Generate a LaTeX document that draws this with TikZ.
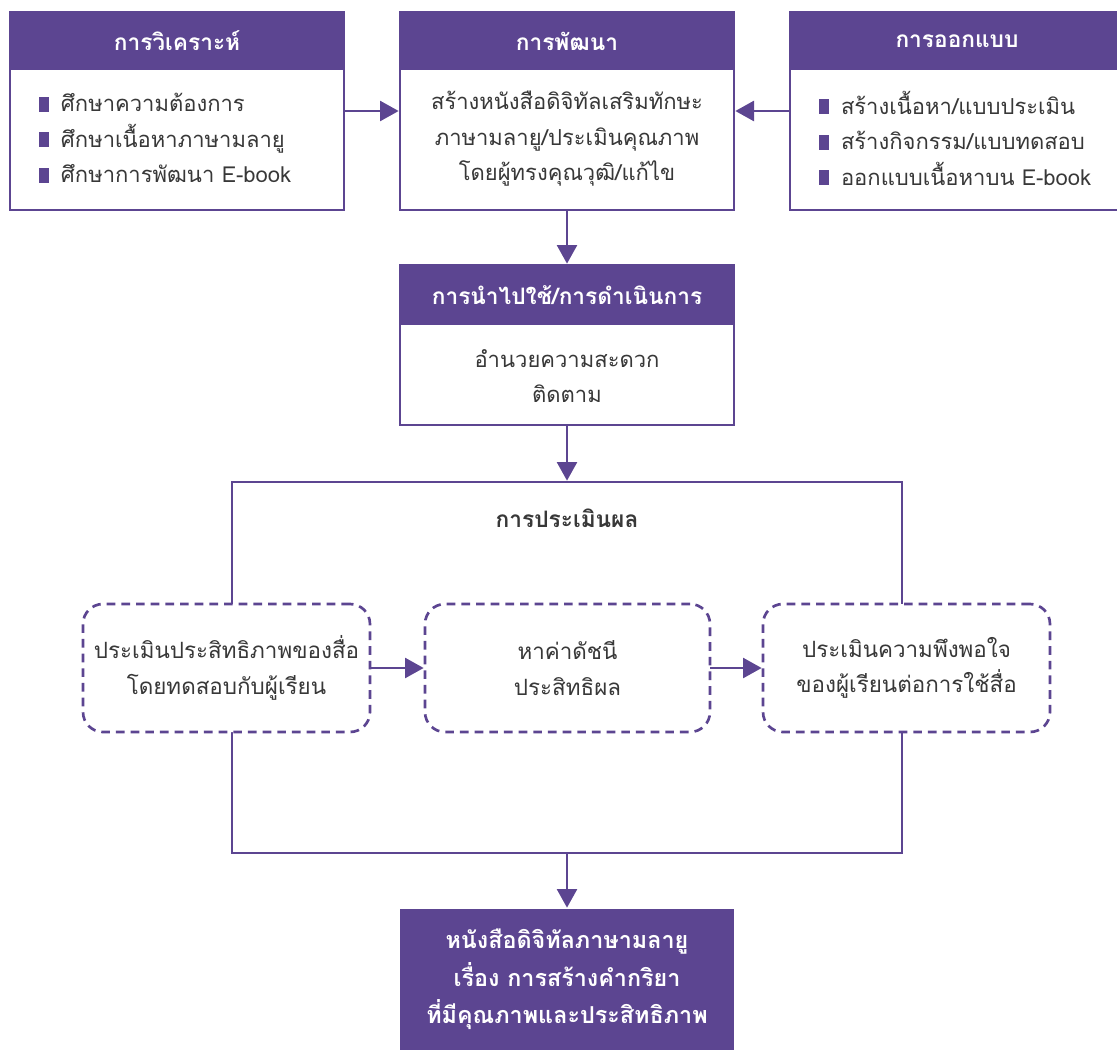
\documentclass[tikz,border=0pt]{standalone}
\usepackage{fontspec}
\setmainfont[Script=Thai]{Loma}
\usetikzlibrary{arrows.meta}
\definecolor{grape}{HTML}{5C4591}
\definecolor{ink}{HTML}{383838}
\def\pxu{0.75pt}
\newcommand{\sqbul}{\textcolor{grape}{\rule{7.5pt}{11pt}}\hspace{9pt}}
\begin{document}
\begin{tikzpicture}[x=0.75pt,y=-0.75pt,
  every node/.style={outer sep=0pt},
  frame/.style={draw=grape, line width=2pt, rectangle, inner sep=0pt,
    anchor=north west, fill=white},
  head/.style={fill=grape, rectangle, inner sep=0pt, anchor=north west,
    text=white, font=\bfseries\fontsize{17}{20}\selectfont},
  body/.style={text=ink, font=\fontsize{16.5}{26.6}\selectfont, align=center,
    inner sep=0pt},
  dashbox/.style={draw=grape, line width=2pt, dash pattern=on 6.5pt off 4.5pt,
    rounded corners=15pt, rectangle, fill=white, anchor=north west,
    minimum height=128*\pxu, text=ink, align=center,
    font=\fontsize{16.8}{26.6}\selectfont},
  link/.style={draw=grape, line width=2pt, shorten >=1pt,
    -{Triangle[length=14pt,width=15pt]}}]
\useasboundingbox (0,0) rectangle (1117,1050);
\clip (0,0) rectangle (1117,1050);

% analysis box
\node[frame, minimum width=334*\pxu, minimum height=198*\pxu] (ana) at (10,12) {};
\node[head, minimum width=334*\pxu, minimum height=58*\pxu] (anah) at (ana.north west) {การวิเคราะห์};
\node[body, align=left, anchor=west] (anab) at (39,138)
  {\sqbul ศึกษาความต้องการ\\ \sqbul ศึกษาเนื้อหาภาษามลายู\\ \sqbul ศึกษาการพัฒนา E-book};

% development box
\node[frame, minimum width=334*\pxu, minimum height=198*\pxu] (dev) at (400,12) {};
\node[head, minimum width=334*\pxu, minimum height=58*\pxu] (devh) at (dev.north west) {การพัฒนา};
\node[body] (devb) at (567,139)
  {สร้างหนังสือดิจิทัลเสริมทักษะ\\ ภาษามลายู/ประเมินคุณภาพ\\ โดยผู้ทรงคุณวุฒิ/แก้ไข};

% design box
\node[frame, minimum width=334*\pxu, minimum height=198*\pxu] (des) at (790,12) {};
\node[head, minimum width=334*\pxu, minimum height=58*\pxu] (desh) at (des.north west) {การออกแบบ};
\node[body, align=left, anchor=west] (desb) at (819,138)
  {\sqbul สร้างเนื้อหา/แบบประเมิน\\ \sqbul สร้างกิจกรรม/แบบทดสอบ\\ \sqbul ออกแบบเนื้อหาบน E-book};

% implementation box
\node[frame, minimum width=334*\pxu, minimum height=160*\pxu] (use) at (400,265) {};
\node[head, minimum width=334*\pxu, minimum height=60*\pxu] (useh) at (use.north west) {การนำไปใช้/การดำเนินการ};
\node[body] (useb) at (567,376) {อำนวยความสะดวก\\ ติดตาม};

% evaluation frame
\node[draw=grape, line width=2pt, rectangle, inner sep=0pt, anchor=north west,
  minimum width=670*\pxu, minimum height=371*\pxu] (evalf) at (232,482) {};
\node[text=ink, font=\bfseries\fontsize{17}{20}\selectfont] (evalt) at (567,518) {การประเมินผล};

\node[dashbox, minimum width=287*\pxu] (ev1) at (83,604) {ประเมินประสิทธิภาพของสื่อ\\ โดยทดสอบกับผู้เรียน};
\node[dashbox, minimum width=285*\pxu] (ev2) at (425,604) {หาค่าดัชนี\\ ประสิทธิผล};
\node[dashbox, minimum width=287*\pxu] (ev3) at (763,604) {ประเมินความพึงพอใจ\\ ของผู้เรียนต่อการใช้สื่อ};

% result box
\node[fill=grape, rectangle, inner sep=0pt, anchor=north west, text=white,
  align=center, font=\bfseries\fontsize{17.5}{28}\selectfont,
  minimum width=334*\pxu, minimum height=141*\pxu] (res) at (400,909)
  {หนังสือดิจิทัลภาษามลายู\\ เรื่อง การสร้างคำกริยา\\ ที่มีคุณภาพและประสิทธิภาพ};

% connectors
\draw[link] (ana.east) -- (dev.west);
\draw[link] (des.west) -- (dev.east);
\draw[link] (dev.south) -- (use.north);
\draw[link] (use.south) -- (evalf.north);
\draw[link] (ev1.east) -- (ev2.west);
\draw[link] (ev2.east) -- (ev3.west);
\draw[link] (evalf.south) -- (res.north);
\end{tikzpicture}
\end{document}
